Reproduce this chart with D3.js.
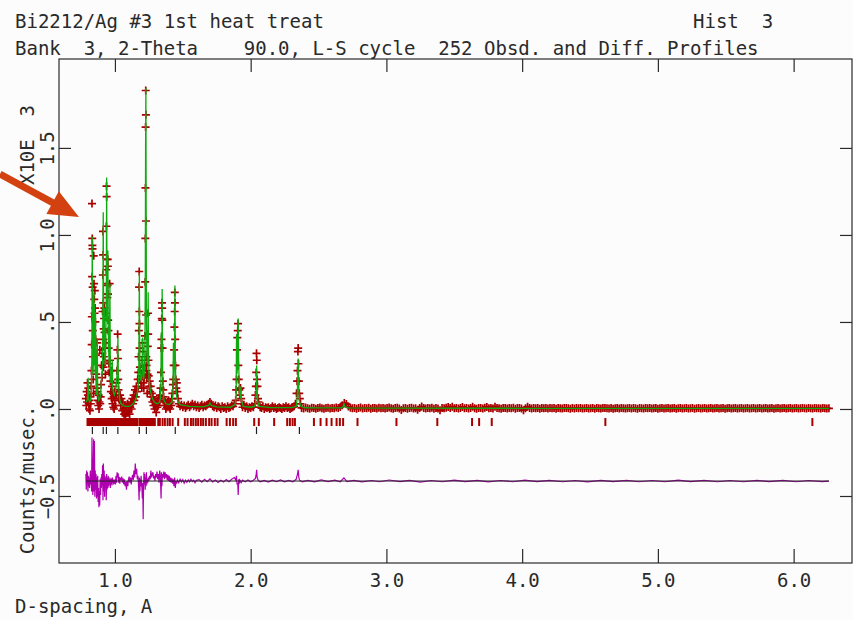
<!DOCTYPE html>
<html>
<head>
<meta charset="utf-8">
<script src="https://cdn.jsdelivr.net/npm/d3@7"></script>
<style>
  body { margin: 0; background: #fcfcfc; }
  svg text { font-family: "DejaVu Sans Mono", monospace; fill: #2a2a2a; white-space: pre; }
</style>
</head>
<body>
<svg id="chart" width="853" height="620"></svg>
<script>
// GSAS style profile plot: Bi2212/Ag #3, TOF bank 3
// intensities are counts/musec, axis is shown in units of 10^3

// observed points in the peaky part, [d-spacing (A), counts/musec]
const obsPeaks = [
  [0.786,60],[0.789,20],[0.792,100],[0.795,40],[0.798,150],[0.801,80],[0.804,120],[0.807,30],[0.810,0],[0.813,50],[0.816,-10],[0.819,70],[0.822,30],[0.825,130],
  [0.827,220],[0.829,370],[0.830,530],[0.831,1180],[0.832,760],[0.833,980],[0.834,940],[0.835,920],[0.836,700],[0.837,450],[0.838,300],[0.840,170],[0.842,90],
  [0.844,880],[0.846,720],[0.848,630],[0.850,550],[0.852,680],[0.854,580],[0.856,500],[0.858,400],[0.860,310],[0.862,200],
  [0.865,120],[0.868,380],[0.871,100],[0.874,50],[0.877,20],[0.880,80],[0.883,0],[0.886,40],[0.889,340],[0.892,30],[0.895,70],[0.898,140],[0.901,250],
  [0.905,180],[0.907,320],[0.909,560],[0.911,770],[0.912,1020],[0.913,885],[0.914,610],[0.915,400],[0.916,240],[0.917,460],[0.918,300],
  [0.920,520],[0.922,580],[0.924,440],[0.926,350],[0.928,270],[0.930,200],[0.932,380],
  [0.934,550],[0.936,800],[0.937,1050],[0.938,1280],[0.939,1220],[0.940,860],[0.941,660],[0.942,720],
  [0.944,640],[0.946,710],[0.947,860],[0.948,820],[0.949,660],[0.950,510],[0.952,450],[0.954,350],[0.956,260],[0.958,210],
  [0.961,720],[0.964,280],[0.967,160],[0.970,100],[0.973,220],[0.976,60],[0.979,130],[0.982,30],[0.985,90],[0.988,10],[0.991,70],[0.994,0],[0.997,50],[1.000,100],[1.004,20],[1.008,80],[1.012,150],
  [1.015,220],[1.018,340],[1.020,430],[1.022,290],[1.024,170],[1.026,110],[1.029,60],
  [1.033,50],[1.038,80],[1.043,20],[1.048,60],[1.053,-10],[1.058,40],[1.063,0],[1.068,-30],[1.073,20],[1.078,-40],[1.083,10],[1.088,-20],[1.093,30],[1.098,-10],[1.103,20],
  [1.108,-30],[1.113,10],[1.118,40],[1.123,0],[1.128,60],[1.133,30],[1.138,80],[1.143,50],[1.148,110],[1.153,70],[1.158,130],[1.163,100],[1.168,170],[1.172,210],
  [1.174,300],[1.176,450],[1.178,700],[1.179,790],[1.180,560],[1.181,490],[1.182,350],[1.184,240],[1.186,170],
  [1.189,210],[1.192,150],[1.195,190],[1.198,120],
  [1.201,280],[1.203,380],[1.205,330],[1.207,220],[1.210,150],
  [1.213,120],[1.216,180],[1.219,250],[1.221,420],[1.223,730],[1.224,980],[1.225,1270],[1.226,1620],[1.227,1830],[1.228,1690],[1.229,1080],[1.230,540],[1.231,300],[1.232,220],[1.233,250],[1.235,180],[1.238,90],
  [1.240,200],[1.242,360],[1.244,550],[1.245,430],[1.247,280],[1.249,190],[1.252,130],
  [1.256,160],[1.260,100],[1.264,130],[1.268,70],[1.272,90],[1.276,40],[1.280,70],[1.284,20],[1.288,50],[1.292,0],[1.296,40],[1.300,20],[1.304,-20],[1.308,30],[1.312,10],[1.316,50],[1.320,20],[1.324,60],[1.328,40],[1.332,80],[1.336,120],
  [1.339,210],[1.341,350],[1.343,400],[1.345,520],[1.347,610],[1.348,580],[1.349,510],[1.351,350],[1.353,160],[1.356,110],[1.359,70],
  [1.363,50],[1.367,20],[1.371,40],[1.375,0],[1.379,30],[1.383,10],[1.387,40],[1.391,20],[1.395,50],[1.399,10],[1.403,30],[1.407,0],[1.411,40],[1.415,20],[1.419,60],[1.423,90],[1.427,140],
  [1.430,170],[1.433,250],[1.436,340],[1.438,470],[1.440,560],[1.441,670],[1.442,610],[1.444,400],[1.446,250],[1.449,170],[1.452,120],[1.456,150],[1.460,100],[1.464,60],
  [1.47,30],[1.48,15],[1.49,25],[1.50,10],[1.51,20],[1.52,5],[1.53,15],[1.54,25],[1.55,10],[1.56,20],[1.57,30],[1.58,15],[1.59,25],[1.60,10],[1.61,20],[1.62,5],[1.63,15],[1.64,25],[1.65,10],[1.66,20],
  [1.67,15],[1.68,25],[1.69,30],[1.70,40],[1.71,30],[1.72,15],[1.73,10],[1.74,20],[1.75,5],[1.76,15],[1.77,10],[1.78,0],[1.79,15],[1.80,5],[1.81,10],[1.82,0],[1.83,15],[1.84,5],[1.85,10],[1.86,20],[1.87,15],[1.88,30],[1.89,50],
  [1.893,110],[1.896,170],[1.899,340],[1.902,410],[1.905,450],[1.907,490],[1.909,250],[1.912,170],[1.916,110],[1.920,80],[1.925,120],[1.930,60],[1.935,30],
  [1.94,10],[1.95,25],[1.96,5],[1.97,15],[1.98,0],[1.99,10],[2.00,5],[2.01,15],[2.02,10],[2.03,30],
  [2.035,80],[2.038,130],[2.041,210],[2.043,320],[2.045,280],[2.047,170],[2.050,130],[2.054,60],[2.058,40],
  [2.07,10],[2.08,5],[2.09,15],[2.10,0],[2.11,10],[2.12,5],[2.13,10],[2.14,0],[2.15,5],[2.16,15],[2.17,5],[2.18,10],[2.19,0],[2.20,5],
  [2.21,10],[2.22,5],[2.23,0],[2.24,10],[2.25,5],[2.26,15],[2.27,5],[2.28,10],[2.29,0],[2.30,5],[2.31,10],[2.32,15],[2.33,30],
  [2.338,90],[2.342,160],[2.345,220],[2.348,330],[2.350,350],[2.352,260],[2.355,160],[2.358,90],[2.362,60],[2.367,30]
];

// the long flat tail is stored like the raw file: start, step and counts
const flatStart = 2.375, flatStep = 0.015;
const flatObs = [
  6,3,8,4,2,7,5,1,6,9,4,2,5,7,3,6,4,8,5,12,
  22,34,28,14,7,4,6,2,5,8,3,6,4,7,2,5,6,3,7,4,
  5,3,6,8,4,2,5,7,3,-6,4,6,2,5,7,3,4,-5,6,14,
  5,3,6,4,7,2,5,3,-8,6,4,7,12,5,13,4,6,3,5,12,
  4,6,3,5,13,4,2,6,5,3,7,12,4,5,3,13,6,4,2,5,
  6,3,5,4,7,2,5,6,3,-7,4,13,5,3,6,4,5,2,6,4,
  5,3,6,4,5,2,6,4,3,5,6,4,2,5,3,6,4,5,3,4,
  5,3,4,6,2,5,4,3,5,6,4,3,5,2,4,6,3,5,4,3,
  4,5,3,6,4,2,5,4,3,5,4,6,3,4,5,2,4,5,3,4,
  5,3,4,6,2,4,5,3,4,5,3,4,6,2,4,5,3,4,5,3,
  4,5,3,4,6,3,4,5,2,4,5,3,4,6,3,4,5,3,4,5,
  3,4,5,3,4,6,3,4,5,3,4,5,2,4,5,3,4,6,3,4,
  5,3,4,5,3,4,5,4,3,5,4,3,5,4,4,3,5,4,3,4
];

// calculated profile vertices
const calcPts = [
  [0.786,40],[0.796,50],[0.800,70],[0.803,180],[0.806,60],[0.812,40],[0.820,50],[0.826,90],[0.830,300],[0.833,990],[0.836,400],[0.839,200],
  [0.842,300],[0.845,670],[0.848,250],[0.851,600],[0.854,200],[0.857,550],[0.860,170],[0.864,80],[0.867,120],[0.870,400],[0.873,90],[0.880,50],
  [0.888,60],[0.895,90],[0.900,150],[0.904,220],[0.908,200],[0.911,500],[0.914,1130],[0.917,450],[0.920,350],[0.922,580],[0.925,300],[0.929,250],
  [0.933,400],[0.937,700],[0.939,1330],[0.942,500],[0.945,600],[0.948,910],[0.951,450],[0.955,300],[0.959,250],[0.963,720],[0.966,250],[0.970,150],
  [0.975,180],[0.980,280],[0.984,120],[0.990,90],[0.996,80],[1.002,100],[1.008,120],[1.014,180],[1.018,250],[1.022,410],[1.025,200],[1.030,90],
  [1.036,50],[1.045,30],[1.060,20],[1.080,15],[1.100,15],[1.120,20],[1.140,35],[1.155,60],[1.165,90],[1.172,140],[1.176,250],[1.178,500],
  [1.180,780],[1.182,400],[1.185,250],[1.188,180],[1.192,160],[1.196,180],[1.201,220],[1.204,410],[1.207,200],[1.212,170],[1.217,220],[1.221,350],
  [1.224,800],[1.226,1500],[1.228,1845],[1.230,1200],[1.232,500],[1.236,300],[1.240,260],[1.243,400],[1.245,670],[1.247,350],[1.251,180],[1.258,120],
  [1.266,90],[1.276,60],[1.290,40],[1.310,30],[1.325,35],[1.335,60],[1.339,160],[1.341,440],[1.343,200],[1.346,300],[1.348,690],[1.351,250],
  [1.355,90],[1.362,50],[1.375,30],[1.400,25],[1.420,40],[1.427,80],[1.431,380],[1.434,150],[1.438,250],[1.442,710],[1.445,300],[1.449,130],
  [1.455,70],[1.465,40],[1.480,25],[1.550,15],[1.650,12],[1.690,20],[1.700,35],[1.710,20],[1.750,12],[1.850,10],[1.885,25],[1.893,80],
  [1.896,430],[1.899,200],[1.904,250],[1.908,520],[1.912,250],[1.917,100],[1.924,60],[1.928,130],[1.932,50],[1.945,15],[2.000,10],[2.030,15],
  [2.038,50],[2.041,120],[2.044,250],[2.047,130],[2.052,40],[2.062,15],[2.150,8],[2.300,8],[2.335,15],[2.343,60],[2.347,180],[2.350,290],
  [2.353,160],[2.358,50],[2.370,15],[2.400,7],[2.500,6],[2.670,6],[2.682,14],[2.687,33],[2.693,14],[2.720,6],[3.000,5],[4.000,4],[5.000,4],[6.260,4]
];

// obs - calc, drawn shifted down by diffOffset
const diffOffset = -414;
const diffPts = [
  [0.786,40],[0.789,-50],[0.792,60],[0.795,-20],[0.798,50],[0.801,-60],[0.804,30],[0.807,-30],[0.810,20],[0.813,-40],
  [0.816,10],[0.819,60],[0.822,-20],[0.825,30],[0.828,-60],[0.831,250],[0.833,-30],[0.835,120],[0.837,-80],[0.840,80],
  [0.843,240],[0.846,-60],[0.849,230],[0.852,-90],[0.855,60],[0.858,-50],[0.861,40],[0.864,-100],[0.867,20],[0.870,-90],
  [0.873,30],[0.876,-120],[0.879,-40],[0.882,-150],[0.885,-60],[0.888,-140],[0.891,10],[0.894,-80],[0.897,20],[0.900,-40],
  [0.903,40],[0.906,-30],[0.909,90],[0.912,-110],[0.915,100],[0.918,-60],[0.921,60],[0.924,-90],[0.927,30],[0.930,-40],
  [0.933,20],[0.936,-110],[0.939,40],[0.942,-50],[0.945,20],[0.948,-40],[0.951,30],[0.954,-30],[0.957,10],[0.960,-20],
  [0.963,20],[0.966,-40],[0.969,10],[0.972,-20],[0.975,15],[0.978,-25],[0.981,20],[0.984,-10],[0.987,10],[0.990,-20],
  [0.993,5],[0.996,-15],[1.000,10],[1.004,-20],[1.008,30],[1.012,-10],[1.016,50],[1.020,20],[1.024,45],[1.028,-10],
  [1.032,25],[1.036,-15],[1.040,20],[1.045,5],[1.050,25],[1.055,-10],[1.060,15],[1.065,-20],[1.070,10],[1.075,-30],
  [1.080,-5],[1.085,-50],[1.090,0],[1.095,-30],[1.100,10],[1.105,25],[1.110,-10],[1.115,20],[1.120,-20],[1.125,15],
  [1.130,35],[1.135,5],[1.140,60],[1.145,20],[1.150,100],[1.155,40],[1.160,70],[1.165,10],[1.170,30],[1.175,-40],
  [1.178,-110],[1.181,20],[1.184,-60],[1.187,10],[1.190,-30],[1.193,30],[1.196,-20],[1.199,-40],[1.202,-100],[1.205,-10],
  [1.208,-220],[1.211,-30],[1.214,50],[1.217,-20],[1.220,40],[1.223,-50],[1.226,20],[1.229,-30],[1.232,50],[1.235,-20],
  [1.238,10],[1.242,-10],[1.246,20],[1.250,0],[1.255,30],[1.260,10],[1.265,60],[1.270,20],[1.275,40],[1.280,50],
  [1.285,15],[1.290,30],[1.295,0],[1.300,40],[1.305,20],[1.310,55],[1.315,10],[1.320,40],[1.325,-10],[1.330,60],
  [1.335,20],[1.340,-100],[1.343,50],[1.346,-30],[1.350,40],[1.355,20],[1.360,55],[1.365,10],[1.370,50],[1.375,20],
  [1.380,40],[1.385,5],[1.390,35],[1.395,0],[1.400,30],[1.405,-5],[1.410,20],[1.415,-10],[1.420,15],[1.425,-15],
  [1.430,10],[1.435,-30],[1.440,20],[1.445,-40],[1.450,0],[1.455,-15],[1.46,5],[1.47,-10],[1.48,10],[1.49,-5],
  [1.50,8],[1.51,-12],[1.52,5],[1.53,-8],[1.54,6],[1.55,-5],[1.56,10],[1.57,-3],[1.58,5],[1.59,-10],
  [1.60,4],[1.62,8],[1.64,-6],[1.66,10],[1.68,-4],[1.70,12],[1.72,-5],[1.74,6],[1.76,-8],[1.78,4],
  [1.80,-6],[1.82,8],[1.84,-4],[1.86,10],[1.88,20],[1.89,5],[1.895,30],[1.90,-20],[1.905,-10],[1.908,-80],
  [1.912,10],[1.916,-15],[1.92,5],[1.93,-10],[1.94,5],[1.96,-5],[1.98,6],[2.00,-4],[2.02,5],[2.035,15],
  [2.041,40],[2.044,65],[2.048,20],[2.055,5],[2.07,-5],[2.10,4],[2.13,-6],[2.16,5],[2.19,-4],[2.22,6],
  [2.25,-5],[2.28,4],[2.31,-5],[2.335,10],[2.345,40],[2.350,65],[2.355,20],[2.36,5],[2.38,-5],[2.42,4],
  [2.47,-5],[2.52,6],[2.57,-3],[2.62,5],[2.66,-4],[2.687,18],[2.71,-3],[2.76,4],[2.82,-5],[2.89,3],
  [2.95,-4],[3.02,6],[3.10,-3],[3.17,4],[3.25,-6],[3.33,3],[3.41,-4],[3.50,5],[3.58,-3],[3.67,4],
  [3.75,-5],[3.84,3],[3.93,-4],[4.02,5],[4.11,-3],[4.20,4],[4.30,-4],[4.39,3],[4.48,-5],[4.58,4],
  [4.67,-3],[4.77,4],[4.86,-4],[4.96,3],[5.05,-4],[5.15,5],[5.24,-3],[5.34,4],[5.44,-4],[5.53,3],
  [5.63,-4],[5.73,4],[5.82,-3],[5.92,4],[6.02,-4],[6.11,3],[6.21,-3],[6.26,0]
];

// reflection positions: Bi2212 (red) and Ag (black)
const bi2212Refl = [
  0.798,0.806,0.815,0.822,0.829,0.838,0.846,0.853,0.861,0.870,0.877,0.884,0.893,0.901,0.908,0.917,0.925,0.932,0.941,0.949,
  0.956,0.965,0.973,0.980,0.989,0.997,1.004,1.013,1.021,1.029,1.038,1.046,1.053,1.062,1.070,1.077,1.086,1.094,1.098,
  1.106,1.114,1.121,1.129,1.137,1.144,1.152,1.158,1.163,
  1.180,1.188,1.195,1.203,1.211,1.218,1.226,1.234,1.241,1.249,1.257,1.264,1.272,1.280,1.287,1.294,
  1.319,1.331,1.351,1.368,1.388,1.405,1.425,1.466,1.515,1.535,1.560,1.577,1.596,1.613,1.633,1.650,1.670,1.694,1.712,1.736,
  1.756,1.823,1.847,1.871,1.891,2.026,2.060,2.173,2.269,2.289,2.309,2.326,2.466,2.515,2.559,2.596,2.633,2.657,2.681,2.787,
  3.074,3.375,3.631,3.683,3.776,4.613,6.138
];
const agRefl = [0.8340, 0.9137, 0.9374, 1.0215, 1.1795, 1.2319, 1.4446, 2.0430, 2.3590];
const reflRow = [-52, -98];   // counts, where the red tick row sits
const agRow = [-103, -144];

const xTicks = [1, 2, 3, 4, 5, 6];
const yTicks = [-0.5, 0, 0.5, 1.0, 1.5];

// arrow pointing at the stray point near 0.83 A
const arrowFrom = [0.153, 1350], arrowTo = [0.735, 1103];

const titleLine1 = "Bi2212/Ag #3 1st heat treat";
const histLabel = "Hist  3";
const titleLine2 = "Bank  3, 2-Theta    90.0, L-S cycle  252 Obsd. and Diff. Profiles";

let svg = d3.select('#chart');
let fontFam = '"DejaVu Sans Mono", monospace';

let x = d3.scaleLinear().domain([0.588, 6.430]).range([59, 852]);
let y = d3.scaleLinear().domain([-0.885, 2.011]).range([563, 59]);
let yc = v => y(v / 1000);   // counts -> pixels

svg.append('rect').attr('width', 853).attr('height', 620).attr('fill', '#fcfcfc');

// titles
svg.append('text').attr('x', 15).attr('y', 28).attr('font-size', 19).text(titleLine1);
svg.append('text').attr('x', 693).attr('y', 28).attr('font-size', 19).text(histLabel);
svg.append('text').attr('x', 15).attr('y', 55).attr('font-size', 19).text(titleLine2);

// reflection ticks
svg.append('g').selectAll('line').data(bi2212Refl).enter().append('line')
  .attr('x1', d => x(d)).attr('x2', d => x(d))
  .attr('y1', yc(reflRow[0])).attr('y2', yc(reflRow[1]))
  .attr('stroke', '#a80000').attr('stroke-width', 2);

svg.append('g').selectAll('line').data(agRefl).enter().append('line')
  .attr('x1', d => x(d)).attr('x2', d => x(d))
  .attr('y1', yc(agRow[0])).attr('y2', yc(agRow[1]))
  .attr('stroke', '#222').attr('stroke-width', 1.2);

// observed as + marks
let flatPts = flatObs.map((v, i) => [flatStart + i * flatStep, v]);
let obsAll = obsPeaks.concat(flatPts);

svg.append('g').attr('class', 'obs').selectAll('path').data(obsAll).enter().append('path')
  .attr('transform', d => 'translate(' + x(d[0]) + ',' + yc(d[1]) + ')')
  .attr('d', 'M-4,0H4M0,-4V4')
  .attr('fill', 'none').attr('stroke', '#a80000').attr('stroke-width', 1.7);

// calculated curve on top
let line = d3.line().x(d => x(d[0])).y(d => yc(d[1]));
svg.append('path').datum(calcPts)
  .attr('d', line)
  .attr('fill', 'none').attr('stroke', '#10aa10').attr('stroke-width', 1.3);

// difference curve + its zero line
svg.append('path').datum(diffPts)
  .attr('d', d3.line().x(d => x(d[0])).y(d => yc(d[1] + diffOffset)))
  .attr('fill', 'none').attr('stroke', '#b000b0').attr('stroke-width', 1.2);

svg.append('line')
  .attr('x1', x(diffPts[0][0])).attr('x2', x(diffPts[diffPts.length - 1][0]))
  .attr('y1', yc(diffOffset)).attr('y2', yc(diffOffset))
  .attr('stroke', '#222').attr('stroke-width', 1);

// frame + inward ticks on all four sides
let fmtY = v => d3.format('.1f')(v).replace(/^(-?)0\./, '$1.');

function styleAxis(g) {
  g.attr('font-size', 19).attr('font-family', fontFam).attr('color', '#2a2a2a');
  g.select('.domain').remove();
  g.selectAll('.tick line').attr('stroke-width', 1.2);
}

svg.append('g').attr('transform', 'translate(0,' + y.range()[0] + ')')
  .call(d3.axisBottom(x).tickValues(xTicks).tickSize(-14).tickPadding(11).tickFormat(d3.format('.1f')))
  .call(styleAxis);

svg.append('g').attr('transform', 'translate(0,' + y.range()[1] + ')')
  .call(d3.axisTop(x).tickValues(xTicks).tickSize(-13).tickFormat(''))
  .call(styleAxis);

let gy = svg.append('g').attr('transform', 'translate(' + x.range()[0] + ',0)')
  .call(d3.axisLeft(y).tickValues(yTicks).tickSize(-12).tickFormat(fmtY))
  .call(styleAxis);
gy.selectAll('.tick text')
  .attr('x', 0).attr('dy', 0)
  .attr('text-anchor', 'middle')
  .attr('transform', 'translate(-5,0) rotate(-90)');

svg.append('g').attr('transform', 'translate(' + x.range()[1] + ',0)')
  .call(d3.axisRight(y).tickValues(yTicks).tickSize(-12).tickFormat(''))
  .call(styleAxis);

svg.append('rect')
  .attr('x', x.range()[0]).attr('y', y.range()[1])
  .attr('width', x.range()[1] - x.range()[0]).attr('height', y.range()[0] - y.range()[1])
  .attr('fill', 'none').attr('stroke', '#2a2a2a').attr('stroke-width', 1.2);

// axis titles
svg.append('text').attr('transform', 'translate(34,145) rotate(-90)')
  .attr('text-anchor', 'middle').attr('font-size', 19).text('X10E  3');
svg.append('text').attr('transform', 'translate(34,480) rotate(-90)')
  .attr('text-anchor', 'middle').attr('font-size', 19).text('Counts/musec.');
svg.append('text').attr('x', 15).attr('y', 613).attr('font-size', 19).text('D-spacing, A');

// annotation arrow
let ax0 = x(arrowFrom[0]), ay0 = yc(arrowFrom[1]);
let ax1 = x(arrowTo[0]), ay1 = yc(arrowTo[1]);
let ang = Math.atan2(ay1 - ay0, ax1 - ax0);
let len = Math.hypot(ax1 - ax0, ay1 - ay0);
let headL = 30, headW = 13, shaftW = 3.5;
svg.append('path')
  .attr('transform', 'translate(' + ax0 + ',' + ay0 + ') rotate(' + (ang * 180 / Math.PI) + ')')
  .attr('d', 'M0,' + (-shaftW) + 'L' + (len - headL) + ',' + (-shaftW) + 'L' + (len - headL) + ',' + (-headW) +
    'L' + len + ',0L' + (len - headL) + ',' + headW + 'L' + (len - headL) + ',' + shaftW + 'L0,' + shaftW + 'Z')
  .attr('fill', '#d2410f');
</script>
</body>
</html>
